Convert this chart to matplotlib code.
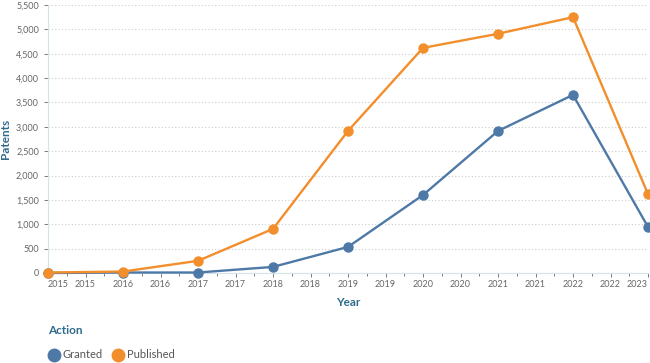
import matplotlib
matplotlib.use("Agg")
import matplotlib.pyplot as plt
from matplotlib.ticker import FuncFormatter, MultipleLocator
from matplotlib.lines import Line2D

plt.rcParams['font.family'] = ['Lato', 'DejaVu Sans']

years = [2015, 2016, 2017, 2018, 2019, 2020, 2021, 2022, 2023]
granted = [0, 10, 10, 125, 535, 1600, 2915, 3655, 945]
published = [10, 30, 250, 905, 2915, 4620, 4910, 5250, 1620]

blue = '#4e79a7'
orange = '#f28e2b'
title_col = '#2f6b8a'
tick_col = '#666666'

fig = plt.figure(figsize=(6.5, 3.63), dpi=100)
ax = fig.add_axes([48 / 650, 90 / 363, 600 / 650, 268 / 363])

ax.plot(years, granted, color=blue, lw=1.7, marker='o', ms=6.5, clip_on=False, zorder=3)
ax.plot(years, published, color=orange, lw=1.7, marker='o', ms=6.5, clip_on=False, zorder=4)

ax.set_xlim(2015, 2023)
ax.set_ylim(0, 5500)
ax.yaxis.set_major_locator(MultipleLocator(500))
ax.yaxis.set_major_formatter(FuncFormatter(lambda v, p: f'{int(v):,}'))

half_years = [2015 + 0.5 * i for i in range(17)]
ax.set_xticks(half_years)
ax.set_xticklabels([str(int(v)) for v in half_years])
ax.xaxis.set_minor_locator(MultipleLocator(0.25))

ax.grid(axis='y', color='#cccccc', ls=(0, (1, 2)), lw=0.8)
ax.set_axisbelow(True)
for s in ['top', 'right']:
    ax.spines[s].set_visible(False)
ax.spines['left'].set_color('#d6e2ea')
ax.spines['bottom'].set_color('#d6e2ea')
ax.tick_params(axis='both', labelsize=6.5, colors=tick_col, length=3, width=0.6)
ax.tick_params(axis='x', which='minor', length=2, width=0.6, colors=tick_col)
ax.tick_params(axis='x', pad=2)

ticks = ax.xaxis.get_major_ticks()
ticks[0].label1.set_horizontalalignment('left')
ticks[-1].label1.set_horizontalalignment('right')

ax.set_ylabel('Patents', fontsize=8.5, fontweight='bold', color=title_col)
ax.yaxis.set_label_coords(-0.062, 0.5)
ax.set_xlabel('Year', fontsize=8.5, fontweight='bold', color=title_col, labelpad=6)

fig.text(48 / 650, 1 - 330 / 363, 'Action', fontsize=8.5, fontweight='bold',
         color=title_col, va='center')
handles = [Line2D([], [], ls='', marker='o', ms=9, color=blue),
           Line2D([], [], ls='', marker='o', ms=9, color=orange)]
fig.legend(handles, ['Granted', 'Published'], loc='center left',
           bbox_to_anchor=(38 / 650, 1 - 355 / 363), ncol=2, frameon=False,
           fontsize=8, labelcolor='#555555', handletextpad=0.3, columnspacing=0.9,
           handlelength=1.0)

fig.savefig('out.png', dpi=100)
